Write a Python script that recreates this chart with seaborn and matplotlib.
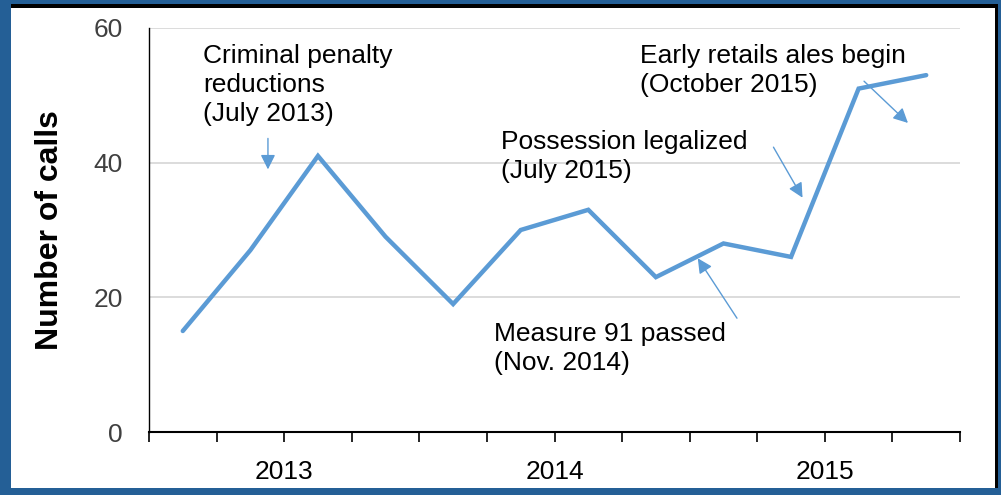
import numpy as np
import pandas as pd
import matplotlib
matplotlib.use('Agg')
import matplotlib.pyplot as plt
from matplotlib.patches import Rectangle
import seaborn as sns

# Quarterly call counts, 2013 Q1 .. 2015 Q4
years = ['2013', '2014', '2015']
quarters = ['Q1', 'Q2', 'Q3', 'Q4']
calls = [15, 27, 41, 29, 19, 30, 33, 23, 28, 26, 51, 53]

# Event annotations: label, text anchor (x, y), arrow start, arrow tip
events = ['Criminal penalty\nreductions\n(July 2013)',
          'Possession legalized\n(July 2015)',
          'Early retails ales begin\n(October 2015)',
          'Measure 91 passed\n(Nov. 2014)']
text_xy = [(0.8, 57.6), (5.21, 44.9), (7.26, 57.6), (5.11, 16.3)]
arrow_from = [(1.76, 43.6), (9.24, 42.3), (10.58, 52.1), (8.70, 16.9)]
arrow_to = [(1.76, 39.0), (9.67, 34.8), (11.23, 45.9), (8.12, 25.8)]

df = pd.DataFrame({
    'period': [y + q for y in years for q in quarters],
    'calls': calls,
})
df['pos'] = np.arange(len(df)) + 0.5

sns.set_style('white')
plt.rcParams['font.family'] = ['Liberation Sans', 'DejaVu Sans']

line_blue = '#5B9BD5'
frame_blue = '#245F96'

fig = plt.figure(figsize=(10.01, 4.95), dpi=100)
fig.patch.set_facecolor(frame_blue)

# black shadow + white panel behind the axes
W, H = 1001, 495
fig.patches.append(Rectangle((11 / W, 7 / H), 987 / W, 484 / H,
                             transform=fig.transFigure, facecolor='black',
                             edgecolor='none', zorder=-10))
fig.patches.append(Rectangle((11 / W, 7 / H), 984 / W, 480 / H,
                             transform=fig.transFigure, facecolor='white',
                             edgecolor='none', zorder=-9))

ax = fig.add_axes([149 / W, 63 / H, 811 / W, 404 / H])
ax.set_zorder(1)
ax.set_facecolor('white')

sns.lineplot(data=df, x='pos', y='calls', ax=ax, color=line_blue,
             linewidth=3.2, solid_capstyle='round', solid_joinstyle='miter',
             zorder=3)

ax.set_xlim(0, len(df))
ax.set_ylim(0, 60)

# y axis
ax.set_yticks([0, 20, 40, 60])
ax.yaxis.grid(True, color='#d9d9d9', linewidth=1.3)
ax.tick_params(axis='y', length=0, pad=19, labelsize=19, labelcolor='#404040')
ax.set_ylabel('Number of calls', fontsize=23, fontweight='bold', labelpad=20,
              color='black')

# x axis: tick at every quarter boundary, year label under the middle of each year
n = len(df)
ax.xaxis.remove_overlapping_locs = False
ax.set_xticks(np.arange(n + 1))
ax.set_xticklabels([''] * (n + 1))
ax.set_xticks([i * 4 + 2 for i in range(len(years))], minor=True)
ax.set_xticklabels(years, minor=True)
ax.tick_params(axis='x', which='major', bottom=True, length=7, width=1.2,
               color='black', direction='out')
ax.tick_params(axis='x', which='minor', bottom=True, labelbottom=True,
               length=0, pad=20, labelsize=19, labelcolor='black')
ax.set_xlabel('')

for side in ['top', 'right']:
    ax.spines[side].set_visible(False)
ax.spines['left'].set_color('black')
ax.spines['left'].set_linewidth(1.0)
ax.spines['bottom'].set_color('black')
ax.spines['bottom'].set_linewidth(1.5)

for label, txy, a0, a1 in zip(events, text_xy, arrow_from, arrow_to):
    ax.text(txy[0], txy[1], label, fontsize=19, va='top', ha='left',
            linespacing=1.26, color='black', zorder=4)
    ax.annotate('', xy=a1, xytext=a0,
                arrowprops=dict(arrowstyle='-|>', color=line_blue, lw=1.0,
                                mutation_scale=22, shrinkA=0, shrinkB=0),
                zorder=4)

fig.savefig('out.png', dpi=100, facecolor=fig.get_facecolor())
